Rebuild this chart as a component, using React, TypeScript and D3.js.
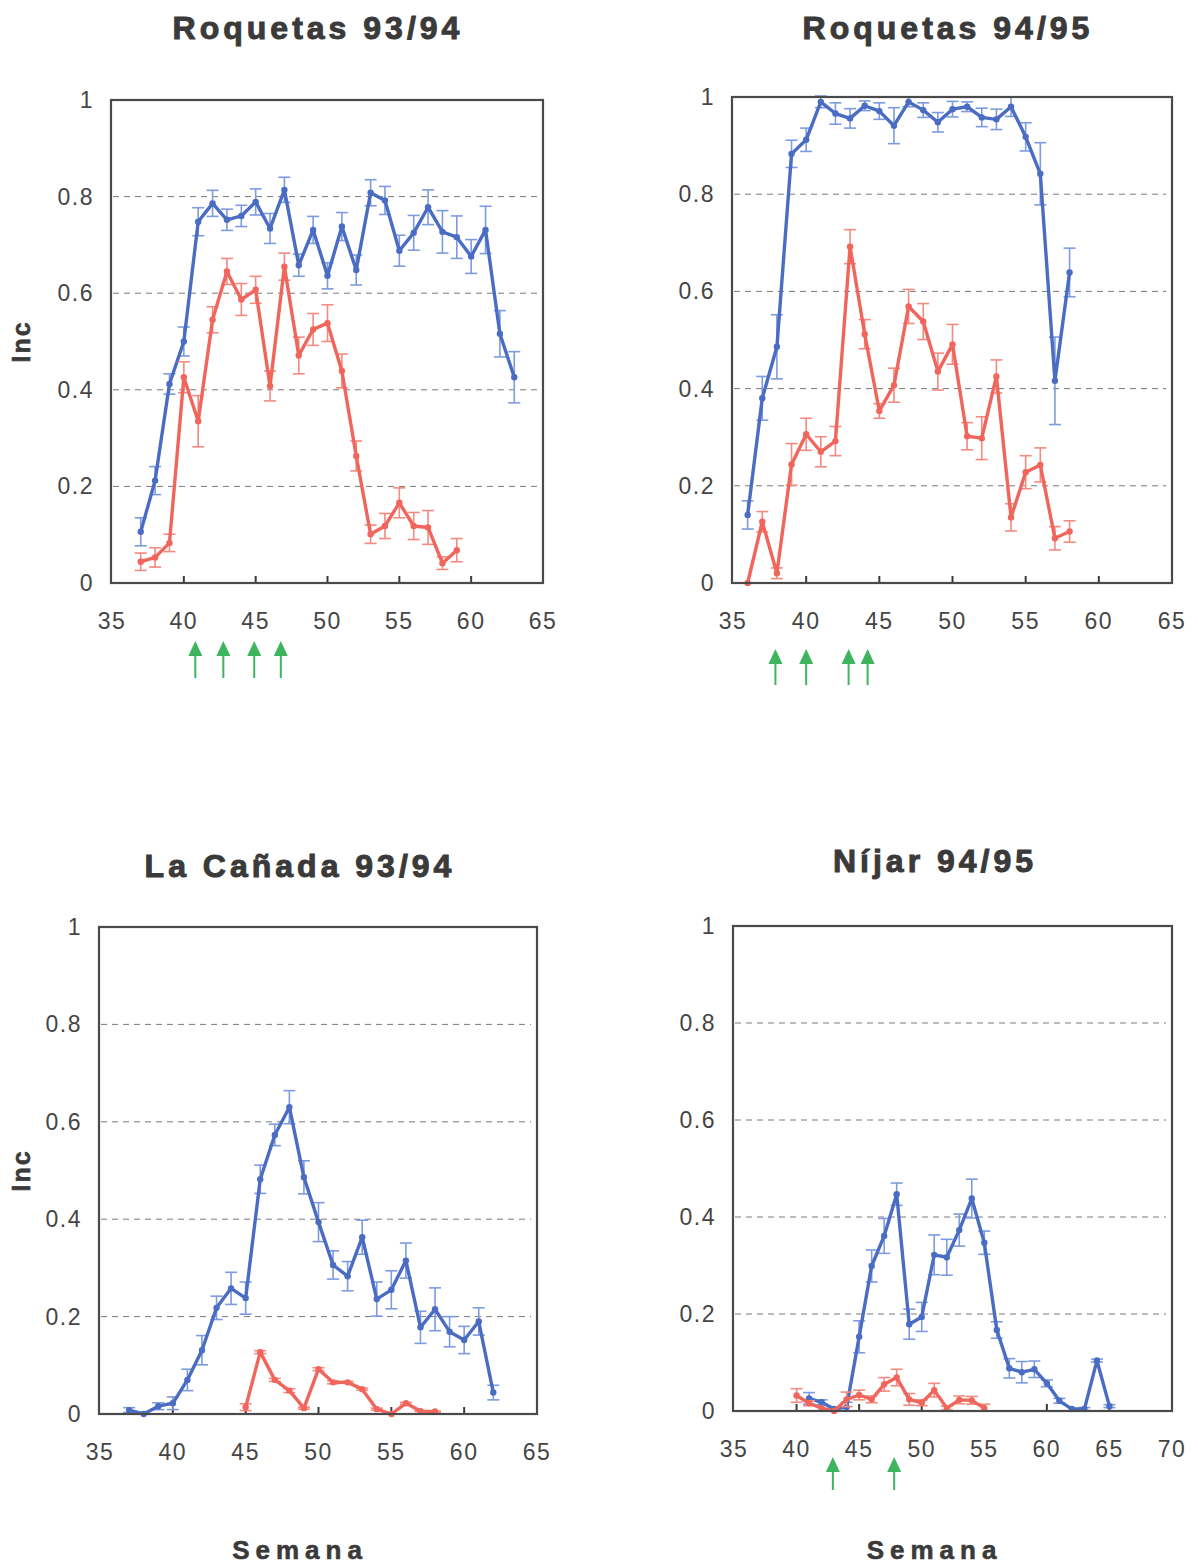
import React from "react";
import * as d3 from "d3";

// Weekly incidence (Inc) per plot, blue and red series with standard errors

// Roquetas 93/94
const weeksBlue1 = d3.range(37, 64);
const blue1 = [0.106, 0.212, 0.412, 0.5, 0.748, 0.786, 0.752, 0.76, 0.789, 0.734, 0.814, 0.658, 0.731, 0.636, 0.738, 0.648, 0.808, 0.792, 0.688, 0.725, 0.778, 0.727, 0.716, 0.676, 0.731, 0.516, 0.426];
const blue1Err = [0.029, 0.029, 0.021, 0.03, 0.029, 0.027, 0.022, 0.022, 0.027, 0.031, 0.026, 0.023, 0.028, 0.027, 0.029, 0.031, 0.027, 0.029, 0.032, 0.036, 0.036, 0.044, 0.044, 0.035, 0.049, 0.048, 0.053];
const weeksRed1 = d3.range(37, 60);
const red1 = [0.044, 0.053, 0.083, 0.426, 0.335, 0.545, 0.645, 0.587, 0.607, 0.408, 0.655, 0.471, 0.525, 0.538, 0.439, 0.263, 0.101, 0.118, 0.166, 0.118, 0.115, 0.041, 0.068];
const red1Err = [0.018, 0.02, 0.018, 0.032, 0.053, 0.027, 0.027, 0.033, 0.028, 0.031, 0.028, 0.038, 0.033, 0.038, 0.035, 0.031, 0.019, 0.026, 0.031, 0.028, 0.035, 0.013, 0.024];
const arrows1 = [40.8, 42.75, 44.9, 46.75];

// Roquetas 94/95
const weeksBlue2 = d3.range(36, 59);
const blue2 = [0.14, 0.38, 0.486, 0.883, 0.912, 0.99, 0.966, 0.956, 0.982, 0.971, 0.941, 0.99, 0.973, 0.948, 0.975, 0.98, 0.958, 0.954, 0.98, 0.918, 0.842, 0.416, 0.639];
const blue2Err = [0.029, 0.045, 0.066, 0.028, 0.024, 0.012, 0.022, 0.02, 0.01, 0.017, 0.037, 0.01, 0.015, 0.02, 0.016, 0.01, 0.019, 0.021, 0.02, 0.029, 0.064, 0.09, 0.05];
const weeksRed2 = d3.range(36, 59);
const red2 = [0.0, 0.126, 0.02, 0.244, 0.306, 0.27, 0.292, 0.692, 0.512, 0.354, 0.407, 0.569, 0.538, 0.435, 0.491, 0.302, 0.298, 0.425, 0.135, 0.228, 0.243, 0.092, 0.106];
const red2Err = [0.0, 0.021, 0.011, 0.043, 0.033, 0.031, 0.03, 0.035, 0.03, 0.015, 0.035, 0.035, 0.037, 0.038, 0.041, 0.028, 0.044, 0.034, 0.028, 0.034, 0.035, 0.024, 0.022];
const arrows2 = [37.9, 40.0, 42.9, 44.2];

// La Cañada 93/94
const weeksBlue3 = d3.range(37, 63);
const blue3 = [0.008, 0.0, 0.016, 0.022, 0.07, 0.131, 0.218, 0.258, 0.238, 0.482, 0.573, 0.63, 0.486, 0.394, 0.306, 0.283, 0.363, 0.236, 0.255, 0.315, 0.178, 0.215, 0.169, 0.152, 0.19, 0.044];
const blue3Err = [0.005, 0.0, 0.007, 0.013, 0.022, 0.03, 0.024, 0.033, 0.033, 0.029, 0.022, 0.034, 0.034, 0.04, 0.029, 0.03, 0.035, 0.035, 0.039, 0.036, 0.033, 0.044, 0.031, 0.028, 0.028, 0.015];
const weeksRed3 = d3.range(45, 59);
const red3 = [0.014, 0.127, 0.07, 0.048, 0.012, 0.092, 0.065, 0.065, 0.051, 0.01, 0.0, 0.022, 0.006, 0.005];
const red3Err = [0.007, 0.003, 0.003, 0.004, 0.002, 0.003, 0.003, 0.002, 0.002, 0.002, 0.0, 0.002, 0.001, 0.001];
const arrows3: number[] = [];

// Níjar 94/95
const weeksBlue4 = d3.range(41, 66);
const blue4 = [0.026, 0.018, 0.004, 0.008, 0.153, 0.299, 0.361, 0.447, 0.179, 0.194, 0.322, 0.317, 0.373, 0.438, 0.347, 0.167, 0.088, 0.08, 0.086, 0.057, 0.021, 0.004, 0.004, 0.104, 0.01];
const blue4Err = [0.012, 0.005, 0.0, 0.01, 0.033, 0.033, 0.036, 0.023, 0.031, 0.03, 0.041, 0.037, 0.033, 0.04, 0.024, 0.017, 0.02, 0.022, 0.017, 0.007, 0.005, 0.0, 0.003, 0.003, 0.003];
const weeksRed4 = d3.range(40, 56);
const red4 = [0.032, 0.016, 0.006, 0.0, 0.024, 0.033, 0.024, 0.055, 0.069, 0.024, 0.017, 0.043, 0.006, 0.023, 0.022, 0.006];
const red4Err = [0.014, 0.005, 0.0, 0.0, 0.015, 0.01, 0.007, 0.014, 0.017, 0.012, 0.006, 0.014, 0.004, 0.008, 0.008, 0.008];
const arrows4 = [42.9, 47.8];

const yTicks = [0, 0.2, 0.4, 0.6, 0.8, 1];
const yTickLabels = ["0", "0.2", "0.4", "0.6", "0.8", "1"];
const xTicks65 = [35, 40, 45, 50, 55, 60, 65];
const xTicks70 = [35, 40, 45, 50, 55, 60, 65, 70];

const BLUE = "#4a6cc2";
const BLUE_ERR = "#7d9be0";
const RED = "#f0665c";
const RED_ERR = "#f48a80";
const GREEN = "#3fb45e";
const TEXT = "#454545";
const DARK = "#3a3a3a";
const FONT = "'Liberation Sans', Arial, sans-serif";

type Series = { weeks: number[]; values: number[]; errs: number[]; color: string; errColor: string };

type Panel = {
  title: string;
  titleX: number;
  titleY: number;
  left: number;
  right: number;
  top: number;
  bottom: number;
  xDomain: [number, number];
  xTicks: number[];
  series: Series[];
  arrows: number[];
  arrowTop: number;
  arrowBottom: number;
  incLabel: boolean;
  semana: boolean;
};

const panels: Panel[] = [
  {
    title: "Roquetas 93/94", titleX: 318, titleY: 39,
    left: 111, right: 543, top: 100, bottom: 583,
    xDomain: [35, 65], xTicks: xTicks65,
    series: [
      { weeks: weeksBlue1, values: blue1, errs: blue1Err, color: BLUE, errColor: BLUE_ERR },
      { weeks: weeksRed1, values: red1, errs: red1Err, color: RED, errColor: RED_ERR },
    ],
    arrows: arrows1, arrowTop: 641, arrowBottom: 678, incLabel: true, semana: false,
  },
  {
    title: "Roquetas 94/95", titleX: 948, titleY: 39,
    left: 732, right: 1172, top: 97, bottom: 583,
    xDomain: [35, 65], xTicks: xTicks65,
    series: [
      { weeks: weeksBlue2, values: blue2, errs: blue2Err, color: BLUE, errColor: BLUE_ERR },
      { weeks: weeksRed2, values: red2, errs: red2Err, color: RED, errColor: RED_ERR },
    ],
    arrows: arrows2, arrowTop: 649, arrowBottom: 685, incLabel: false, semana: false,
  },
  {
    title: "La Cañada 93/94", titleX: 300, titleY: 877,
    left: 99, right: 537, top: 927, bottom: 1414,
    xDomain: [35, 65], xTicks: xTicks65,
    series: [
      { weeks: weeksBlue3, values: blue3, errs: blue3Err, color: BLUE, errColor: BLUE_ERR },
      { weeks: weeksRed3, values: red3, errs: red3Err, color: RED, errColor: RED_ERR },
    ],
    arrows: arrows3, arrowTop: 0, arrowBottom: 0, incLabel: true, semana: true,
  },
  {
    title: "Níjar 94/95", titleX: 935, titleY: 872,
    left: 733, right: 1172, top: 926, bottom: 1411,
    xDomain: [35, 70], xTicks: xTicks70,
    series: [
      { weeks: weeksBlue4, values: blue4, errs: blue4Err, color: BLUE, errColor: BLUE_ERR },
      { weeks: weeksRed4, values: red4, errs: red4Err, color: RED, errColor: RED_ERR },
    ],
    arrows: arrows4, arrowTop: 1457, arrowBottom: 1490, incLabel: false, semana: true,
  },
];

function PanelView({ p }: { p: Panel }) {
  const x = d3.scaleLinear().domain(p.xDomain).range([p.left + 1, p.right]);
  const y = d3.scaleLinear().domain([0, 1]).range([p.bottom, p.top]);
  const line = d3
    .line<[number, number]>()
    .x((d) => x(d[0]))
    .y((d) => y(d[1]));
  const cap = 6;

  return (
    <g>
      <text
        x={p.titleX}
        y={p.titleY}
        textAnchor="middle"
        fontFamily={FONT}
        fontWeight="bold"
        fontSize={32}
        letterSpacing={4}
        fill={DARK}
        stroke={DARK}
        strokeWidth={1}
      >
        {p.title}
      </text>

      {/* horizontal dashed gridlines */}
      {yTicks.slice(1, -1).map((t) => (
        <line
          key={"g" + t}
          x1={p.left + 2}
          x2={p.right - 6}
          y1={y(t)}
          y2={y(t)}
          stroke="#7a7a7a"
          strokeWidth={1}
          strokeDasharray="6,5"
        />
      ))}

      {/* y tick labels */}
      {yTicks.map((t, i) => (
        <text
          key={"yl" + t}
          x={p.left - 17}
          y={y(t)}
          dy="0.35em"
          textAnchor="end"
          fontFamily={FONT}
          fontSize={23}
          letterSpacing={1.5}
          fill={TEXT}
        >
          {yTickLabels[i]}
        </text>
      ))}

      {/* x ticks inside the frame, and labels */}
      {p.xTicks.slice(1, -1).map((t) => (
        <line key={"xt" + t} x1={x(t)} x2={x(t)} y1={p.bottom} y2={p.bottom - 7} stroke={DARK} strokeWidth={2} />
      ))}
      {p.xTicks.map((t) => (
        <text
          key={"xl" + t}
          x={x(t)}
          y={p.bottom + 46}
          textAnchor="middle"
          fontFamily={FONT}
          fontSize={23}
          letterSpacing={1.5}
          fill={TEXT}
        >
          {t}
        </text>
      ))}

      {/* series: error bars, line, points */}
      {p.series.map((s, si) => {
        const pts: [number, number][] = s.weeks.map((w, i) => [w, s.values[i]]);
        return (
          <g key={"s" + si}>
            {pts.map(([w, v], i) => {
              const e = s.errs[i];
              if (e <= 0) return null;
              const cx = x(w);
              const y1 = y(v + e);
              const y2 = y(Math.max(0, v - e));
              return (
                <g key={"e" + i} stroke={s.errColor} strokeWidth={1.6}>
                  <line x1={cx} x2={cx} y1={y1} y2={y2} />
                  <line x1={cx - cap} x2={cx + cap} y1={y1} y2={y1} />
                  <line x1={cx - cap} x2={cx + cap} y1={y2} y2={y2} />
                </g>
              );
            })}
            <path d={line(pts) ?? ""} fill="none" stroke={s.color} strokeWidth={3.4} strokeLinejoin="round" />
            {pts.map(([w, v], i) => (
              <circle key={"p" + i} cx={x(w)} cy={y(v)} r={3.2} fill={s.color} />
            ))}
          </g>
        );
      })}

      {/* frame */}
      <rect
        x={p.left}
        y={p.top}
        width={p.right - p.left}
        height={p.bottom - p.top}
        fill="none"
        stroke="#4a4a4a"
        strokeWidth={2.2}
      />

      {/* green arrows under the axis */}
      {p.arrows.map((a, i) => {
        const ax = x(a);
        return (
          <g key={"a" + i} fill={GREEN} stroke={GREEN}>
            <line x1={ax} x2={ax} y1={p.arrowTop + 12} y2={p.arrowBottom} strokeWidth={2} />
            <path d={`M${ax},${p.arrowTop} L${ax - 7},${p.arrowTop + 15} L${ax + 7},${p.arrowTop + 15} Z`} stroke="none" />
          </g>
        );
      })}

      {p.incLabel && (
        <text
          transform={`translate(30,${(p.top + p.bottom) / 2}) rotate(-90)`}
          textAnchor="middle"
          fontFamily={FONT}
          fontWeight="bold"
          fontSize={25}
          letterSpacing={2}
          fill={DARK}
          stroke={DARK}
          strokeWidth={0.6}
        >
          Inc
        </text>
      )}

      {p.semana && (
        <text
          x={(p.left + p.right) / 2 - 18}
          y={1559}
          textAnchor="middle"
          fontFamily={FONT}
          fontWeight="bold"
          fontSize={26}
          letterSpacing={6}
          fill={DARK}
          stroke={DARK}
          strokeWidth={0.6}
        >
          Semana
        </text>
      )}
    </g>
  );
}

export default function App() {
  return (
    <svg
      width={1198}
      height={1566}
      style={{ position: "absolute", left: 0, top: 0, background: "#fff" }}
    >
      <rect x={0} y={0} width={1198} height={1566} fill="#fff" />
      {panels.map((p, i) => (
        <PanelView key={i} p={p} />
      ))}
    </svg>
  );
}
